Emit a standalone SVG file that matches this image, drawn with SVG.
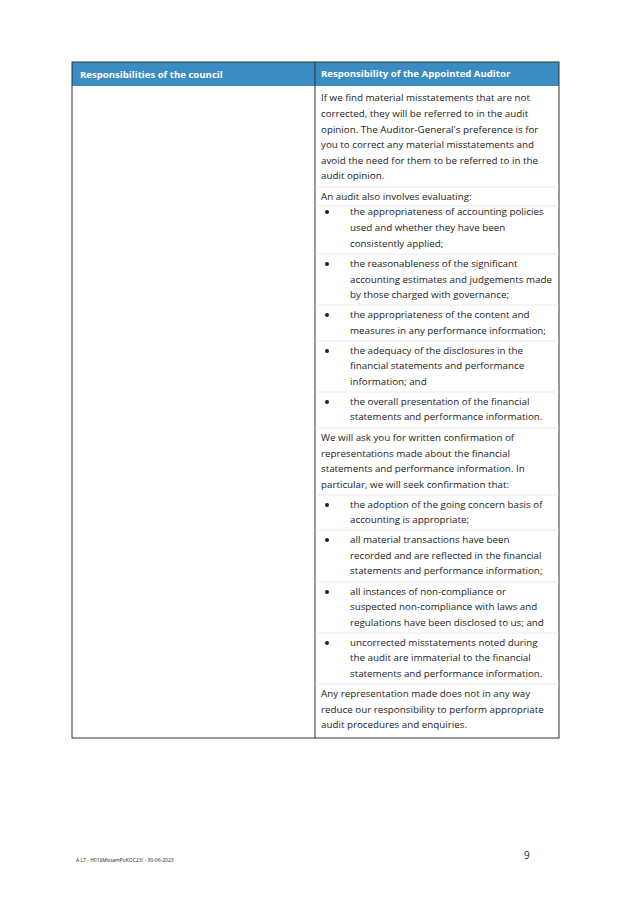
<svg xmlns="http://www.w3.org/2000/svg" width="633" height="903" viewBox="0 0 633 903">
<style>
text{font-family:"Open Sans","Liberation Sans",sans-serif;font-size:9.8px;fill:#222}
.h{fill:#fff;font-weight:bold;font-size:9.6px}
.sep{stroke:#ddd;stroke-width:0.6}
.b{fill:#222}
</style>
<rect width="633" height="903" fill="#fff"/>
<g id="table">
<rect x="72" y="62" width="487" height="24" fill="#3a8cc2"/>
<rect x="72" y="62" width="487" height="676" fill="none" stroke="#333" stroke-width="1"/>
<line x1="315" y1="62" x2="315" y2="738" stroke="#333" stroke-width="1"/>
<text class="h" x="80" y="78">Responsibilities of the council</text>
<text class="h" x="321" y="77">Responsibility of the Appointed Auditor</text>
</g>
<g id="separators">
<line class="sep" x1="315" y1="187" x2="559" y2="187"/>
<line class="sep" x1="315" y1="206" x2="559" y2="206"/>
<line class="sep" x1="315" y1="254" x2="559" y2="254"/>
<line class="sep" x1="315" y1="305" x2="559" y2="305"/>
<line class="sep" x1="315" y1="341" x2="559" y2="341"/>
<line class="sep" x1="315" y1="392" x2="559" y2="392"/>
<line class="sep" x1="315" y1="428" x2="559" y2="428"/>
<line class="sep" x1="315" y1="495" x2="559" y2="495"/>
<line class="sep" x1="315" y1="530" x2="559" y2="530"/>
<line class="sep" x1="315" y1="582" x2="559" y2="582"/>
<line class="sep" x1="315" y1="633" x2="559" y2="633"/>
<line class="sep" x1="315" y1="684" x2="559" y2="684"/>
</g>
<g id="text">
<text x="321" y="101">If we find material misstatements that are not</text>
<text x="321" y="117">corrected, they will be referred to in the audit</text>
<text x="321" y="133">opinion. The Auditor-General's preference is for</text>
<text x="321" y="148">you to correct any material misstatements and</text>
<text x="321" y="164">avoid the need for them to be referred to in the</text>
<text x="321" y="179">audit opinion.</text>
<text x="321" y="200">An audit also involves evaluating:</text>
<text x="350" y="215">the appropriateness of accounting policies</text>
<text x="350" y="231">used and whether they have been</text>
<text x="350" y="247">consistently applied;</text>
<text x="350" y="267">the reasonableness of the significant</text>
<text x="350" y="283">accounting estimates and judgements made</text>
<text x="350" y="298">by those charged with governance;</text>
<text x="350" y="318">the appropriateness of the content and</text>
<text x="350" y="334">measures in any performance information;</text>
<text x="350" y="354">the adequacy of the disclosures in the</text>
<text x="350" y="369">financial statements and performance</text>
<text x="350" y="385">information; and</text>
<text x="350" y="405">the overall presentation of the financial</text>
<text x="350" y="420">statements and performance information.</text>
<text x="321" y="441">We will ask you for written confirmation of</text>
<text x="321" y="457">representations made about the financial</text>
<text x="321" y="472">statements and performance information. In</text>
<text x="321" y="488">particular, we will seek confirmation that:</text>
<text x="350" y="508">the adoption of the going concern basis of</text>
<text x="350" y="523">accounting is appropriate;</text>
<text x="350" y="543">all material transactions have been</text>
<text x="350" y="559">recorded and are reflected in the financial</text>
<text x="350" y="574">statements and performance information;</text>
<text x="350" y="595">all instances of non-compliance or</text>
<text x="350" y="610">suspected non-compliance with laws and</text>
<text x="350" y="626">regulations have been disclosed to us; and</text>
<text x="350" y="646">uncorrected misstatements noted during</text>
<text x="350" y="661">the audit are immaterial to the financial</text>
<text x="350" y="677">statements and performance information.</text>
<text x="321" y="697">Any representation made does not in any way</text>
<text x="321" y="713">reduce our responsibility to perform appropriate</text>
<text x="321" y="728">audit procedures and enquiries.</text>
</g>
<g id="bullets" class="b">
<circle cx="327" cy="212" r="2"/>
<circle cx="327" cy="264" r="2"/>
<circle cx="327" cy="315" r="2"/>
<circle cx="327" cy="351" r="2"/>
<circle cx="327" cy="402" r="2"/>
<circle cx="327" cy="505" r="2"/>
<circle cx="327" cy="540" r="2"/>
<circle cx="327" cy="592" r="2"/>
<circle cx="327" cy="643" r="2"/>
</g>
<g id="footer">
<text x="76" y="862" style="font-size:5px">A L7 - H01SMistamPuKOC23/ - 30-06-2023</text>
<text x="524" y="859" style="font-size:10px">9</text>
</g>
</svg>
